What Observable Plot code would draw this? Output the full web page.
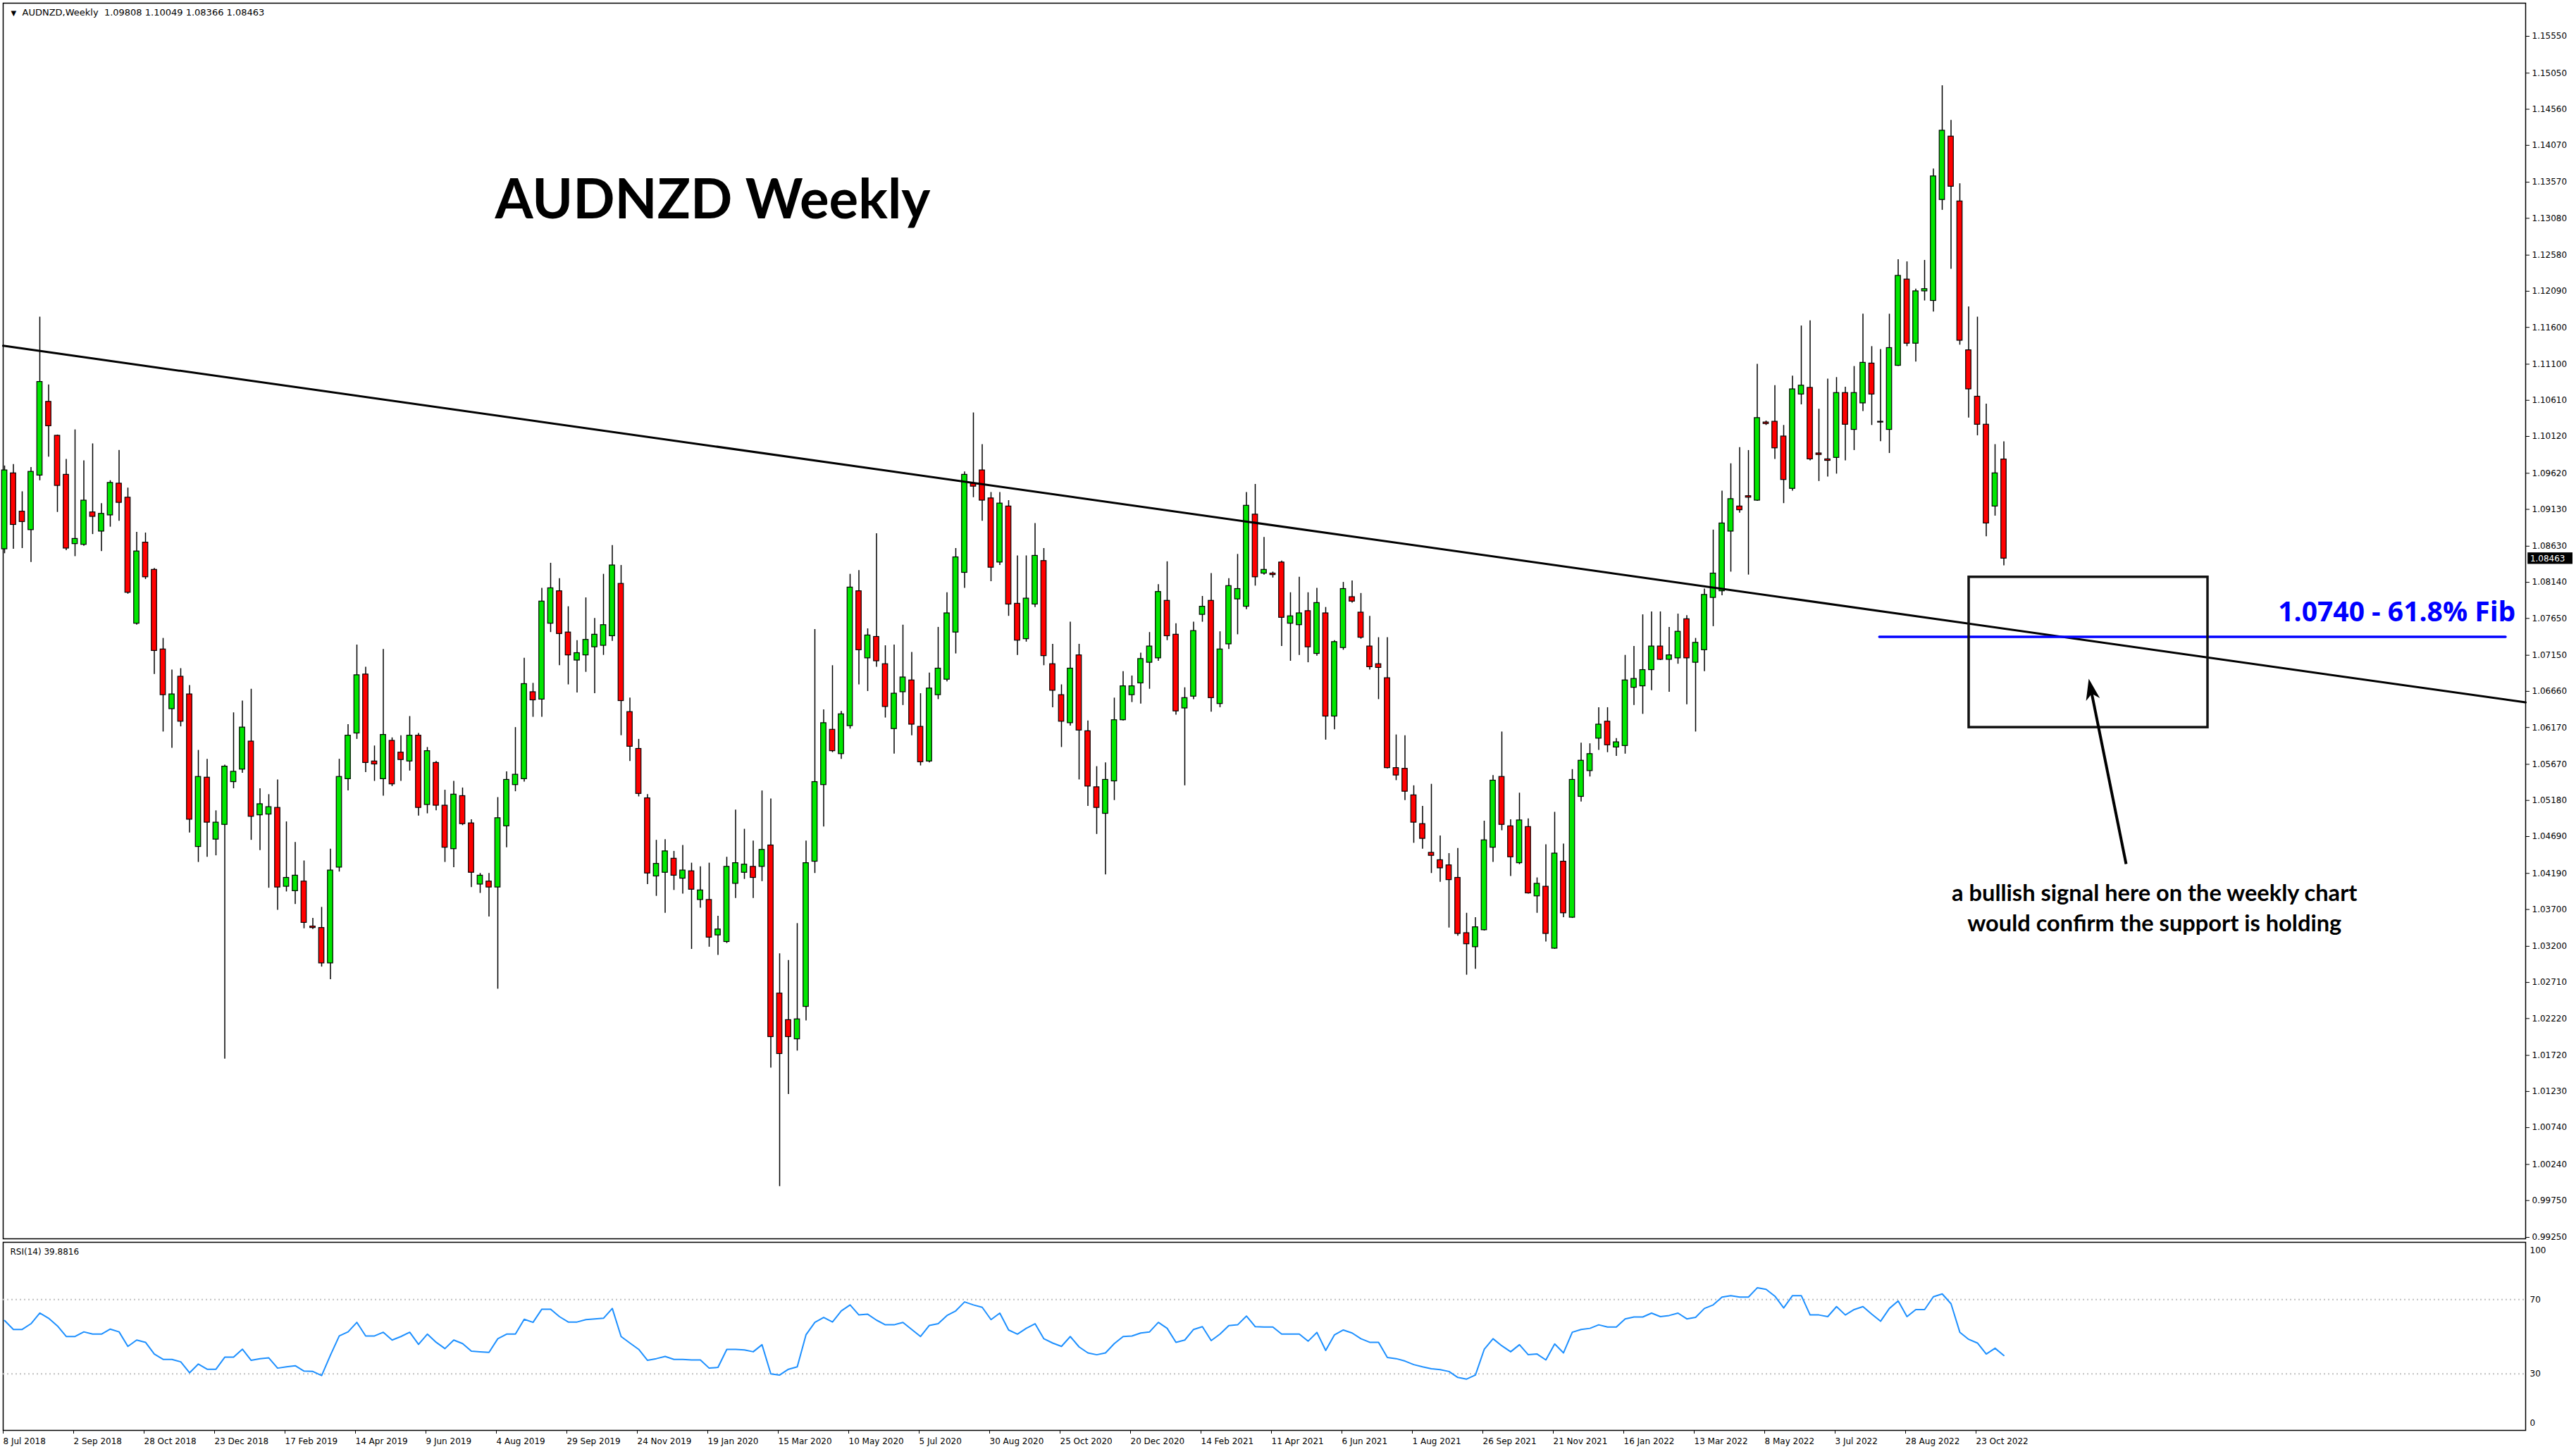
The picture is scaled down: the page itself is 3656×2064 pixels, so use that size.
<!DOCTYPE html>
<html><head><meta charset="utf-8">
<script src="https://cdn.jsdelivr.net/npm/d3@7"></script>
<script src="https://cdn.jsdelivr.net/npm/@observablehq/plot@0.6"></script>
<style>
body{margin:0;background:#fff;}
#wrap{position:relative;width:3656px;height:2064px;overflow:hidden;background:#fff;}
#wrap svg{position:absolute;left:0;}
</style></head><body><div id="wrap"></div>
<script>
const symbolName = "AUDNZD";
const timeframe = "Weekly";

const opens = [
1.0859,1.0962,1.0910,1.0885,1.0959,1.1059,1.1013,1.0960,1.0866,1.0865,
1.0909,1.0883,1.0905,1.0948,1.0929,1.0758,1.0868,1.0831,1.0723,1.0642,
1.0686,1.0662,1.0455,1.0549,1.0465,1.0485,1.0543,1.0560,1.0598,1.0498,
1.0499,1.0508,1.0401,1.0395,1.0408,1.0347,1.0345,1.0297,1.0427,1.0547,
1.0609,1.0689,1.0571,1.0547,1.0599,1.0583,1.0571,1.0606,1.0512,1.0569,
1.0511,1.0452,1.0524,1.0487,1.0404,1.0408,1.0400,1.0483,1.0539,1.0547,
1.0665,1.0655,1.0758,1.0802,1.0746,1.0708,1.0715,1.0726,1.0728,1.0741,
1.0812,1.0638,1.0588,1.0521,1.0415,1.0420,1.0439,1.0412,1.0422,1.0383,
1.0383,1.0335,1.0326,1.0405,1.0420,1.0428,1.0428,1.0457,1.0256,1.0220,
1.0194,1.0238,1.0435,1.0539,1.0614,1.0581,1.0619,1.0802,1.0711,1.0740,
1.0703,1.0615,1.0665,1.0681,1.0618,1.0571,1.0661,1.0682,1.0746,1.0827,
1.0948,1.0966,1.0928,1.0841,1.0917,1.0785,1.0737,1.0784,1.0843,1.0703,
1.0661,1.0623,1.0715,1.0612,1.0536,1.0500,1.0544,1.0627,1.0661,1.0677,
1.0705,1.0711,1.0789,1.0743,1.0643,1.0659,1.0770,1.0789,1.0649,1.0730,
1.0791,1.0781,1.0906,1.0826,1.0826,1.0841,1.0758,1.0756,1.0775,1.0717,
1.0772,1.0632,1.0725,1.0794,1.0773,1.0727,1.0703,1.0684,1.0562,1.0561,
1.0525,1.0486,1.0447,1.0437,1.0430,1.0413,1.0338,1.0319,1.0342,1.0454,
1.0550,1.0483,1.0433,1.0482,1.0388,1.0401,1.0317,1.0435,1.0359,1.0523,
1.0558,1.0602,1.0625,1.0590,1.0592,1.0671,1.0673,1.0695,1.0727,1.0709,
1.0711,1.0764,1.0705,1.0722,1.0793,1.0802,1.0883,1.0917,1.0931,1.0925,
1.1031,1.1032,1.1012,1.0941,1.1069,1.1078,1.0989,1.0981,1.0983,1.1071,
1.1021,1.1057,1.1111,1.1032,1.1021,1.1108,1.1225,1.1138,1.1209,1.1196,
1.1333,1.1419,1.1331,1.1129,1.1066,1.1028,1.0917,1.09808];

const highs = [
1.0972,1.0974,1.0937,1.0970,1.1174,1.1082,1.1014,1.0981,1.1021,1.0979,
1.1002,1.0921,1.0952,1.0993,1.0942,1.0882,1.0881,1.0833,1.0738,1.0695,
1.0697,1.0674,1.0586,1.0574,1.0504,1.0566,1.0637,1.0653,1.0669,1.0534,
1.0526,1.0546,1.0489,1.0461,1.0436,1.0358,1.0373,1.0452,1.0574,1.0621,
1.0729,1.0699,1.0592,1.0723,1.0603,1.0606,1.0632,1.0609,1.0590,1.0571,
1.0532,1.0544,1.0535,1.0492,1.0419,1.0419,1.0522,1.0557,1.0617,1.0711,
1.0677,1.0806,1.0840,1.0819,1.0781,1.0735,1.0793,1.0765,1.0825,1.0864,
1.0837,1.0657,1.0601,1.0526,1.0464,1.0465,1.0449,1.0457,1.0433,1.0428,
1.0433,1.0361,1.0441,1.0505,1.0479,1.0463,1.0531,1.0520,1.0310,1.0301,
1.0351,1.0463,1.0750,1.0641,1.0701,1.0639,1.0825,1.0830,1.0751,1.0880,
1.0728,1.0729,1.0756,1.0719,1.0663,1.0691,1.0753,1.0800,1.0860,1.0964,
1.1044,1.1001,1.0936,1.0936,1.0925,1.0850,1.0850,1.0894,1.0860,1.0730,
1.0675,1.0760,1.0730,1.0626,1.0564,1.0569,1.0657,1.0693,1.0687,1.0718,
1.0746,1.0811,1.0842,1.0758,1.0671,1.0760,1.0795,1.0826,1.0747,1.0819,
1.0852,1.0936,1.0947,1.0875,1.0828,1.0843,1.0800,1.0821,1.0800,1.0806,
1.0780,1.0735,1.0814,1.0816,1.0799,1.0768,1.0739,1.0739,1.0607,1.0606,
1.0538,1.0510,1.0540,1.0470,1.0446,1.0453,1.0365,1.0359,1.0490,1.0552,
1.0611,1.0492,1.0528,1.0493,1.0413,1.0458,1.0502,1.0459,1.0560,1.0596,
1.0595,1.0644,1.0644,1.0602,1.0715,1.0727,1.0770,1.0774,1.0774,1.0753,
1.0771,1.0769,1.0738,1.0805,1.0885,1.0938,1.0975,1.0997,1.0993,1.1110,
1.1033,1.1081,1.1027,1.1094,1.1162,1.1169,1.1049,1.1090,1.1092,1.1079,
1.1107,1.1178,1.1134,1.1130,1.1178,1.1252,1.1249,1.1212,1.1251,1.1375,
1.1488,1.1441,1.1355,1.1188,1.1174,1.1056,1.1001,1.10049];

const lows = [
1.0853,1.0859,1.0860,1.0841,1.0952,1.0984,1.0909,1.0857,1.0849,1.0863,
1.0879,1.0856,1.0889,1.0897,1.0798,1.0756,1.0818,1.0689,1.0611,1.0589,
1.0618,1.0474,1.0434,1.0441,1.0443,1.0167,1.0534,1.0555,1.0464,1.0450,
1.0399,1.0369,1.0394,1.0377,1.0344,1.0343,1.0292,1.0275,1.0421,1.0531,
1.0601,1.0556,1.0544,1.0524,1.0537,1.0544,1.0558,1.0497,1.0500,1.0504,
1.0434,1.0427,1.0484,1.0400,1.0392,1.0360,1.0262,1.0454,1.0530,1.0543,
1.0631,1.0631,1.0746,1.0701,1.0675,1.0664,1.0692,1.0663,1.0715,1.0734,
1.0606,1.0571,1.0523,1.0404,1.0388,1.0365,1.0396,1.0391,1.0316,1.0372,
1.0319,1.0308,1.0324,1.0385,1.0411,1.0385,1.0408,1.0155,0.9994,1.0119,
1.0178,1.0219,1.0419,1.0482,1.0583,1.0574,1.0615,1.0675,1.0666,1.0699,
1.0630,1.0581,1.0647,1.0606,1.0565,1.0569,1.0655,1.0679,1.0717,1.0806,
1.0929,1.0897,1.0815,1.0837,1.0768,1.0715,1.0733,1.0780,1.0701,1.0644,
1.0590,1.0619,1.0546,1.0510,1.0472,1.0417,1.0518,1.0626,1.0651,1.0649,
1.0669,1.0707,1.0735,1.0634,1.0538,1.0655,1.0760,1.0638,1.0644,1.0723,
1.0743,1.0777,1.0809,1.0824,1.0820,1.0727,1.0707,1.0715,1.0705,1.0714,
1.0600,1.0614,1.0722,1.0786,1.0737,1.0695,1.0655,1.0561,1.0545,1.0518,
1.0460,1.0452,1.0419,1.0407,1.0345,1.0334,1.0281,1.0289,1.0341,1.0434,
1.0477,1.0415,1.0431,1.0391,1.0365,1.0326,1.0316,1.0359,1.0358,1.0516,
1.0550,1.0586,1.0583,1.0578,1.0581,1.0647,1.0635,1.0667,1.0708,1.0665,
1.0703,1.0648,1.0611,1.0693,1.0754,1.0796,1.0828,1.0908,1.0824,1.0924,
1.1027,1.0981,1.0921,1.0938,1.1055,1.0979,1.0951,1.0957,1.0961,1.0979,
1.0993,1.1046,1.1027,1.1005,1.0989,1.1107,1.1134,1.1113,1.1196,1.1181,
1.1319,1.1239,1.1136,1.1037,1.1013,1.0876,1.0904,1.08366];

const closes = [
1.0966,1.0892,1.0896,1.0964,1.1086,1.1026,1.0945,1.0860,1.0873,1.0925,
1.0903,1.0907,1.0949,1.0922,1.0800,1.0856,1.0821,1.0721,1.0661,1.0662,
1.0625,1.0492,1.0550,1.0488,1.0488,1.0564,1.0557,1.0617,1.0496,1.0513,
1.0509,1.0400,1.0413,1.0416,1.0352,1.0345,1.0297,1.0423,1.0550,1.0606,
1.0688,1.0569,1.0567,1.0607,1.0540,1.0573,1.0606,1.0508,1.0585,1.0511,
1.0454,1.0526,1.0486,1.0420,1.0416,1.0400,1.0494,1.0546,1.0553,1.0676,
1.0654,1.0788,1.0806,1.0744,1.0715,1.0718,1.0736,1.0743,1.0756,1.0837,
1.0653,1.0591,1.0527,1.0419,1.0432,1.0449,1.0416,1.0423,1.0397,1.0396,
1.0332,1.0343,1.0428,1.0433,1.0431,1.0413,1.0451,1.0197,1.0174,1.0197,
1.0221,1.0433,1.0543,1.0623,1.0585,1.0635,1.0807,1.0722,1.0742,1.0707,
1.0645,1.0663,1.0685,1.0621,1.0570,1.0670,1.0697,1.0772,1.0848,1.0960,
1.0944,1.0925,1.0834,1.0921,1.0784,1.0735,1.0792,1.0850,1.0714,1.0667,
1.0625,1.0697,1.0613,1.0537,1.0508,1.0546,1.0627,1.0673,1.0673,1.0710,
1.0727,1.0801,1.0741,1.0639,1.0657,1.0748,1.0781,1.0657,1.0723,1.0809,
1.0805,1.0918,1.0821,1.0831,1.0824,1.0766,1.0768,1.0772,1.0726,1.0786,
1.0632,1.0733,1.0805,1.0788,1.0739,1.0699,1.0698,1.0562,1.0552,1.0530,
1.0488,1.0466,1.0443,1.0426,1.0410,1.0337,1.0323,1.0346,1.0464,1.0545,
1.0485,1.0441,1.0491,1.0392,1.0405,1.0337,1.0446,1.0365,1.0546,1.0572,
1.0581,1.0621,1.0593,1.0597,1.0681,1.0683,1.0695,1.0727,1.0709,1.0715,
1.0747,1.0711,1.0732,1.0797,1.0826,1.0894,1.0927,1.0912,1.0929,1.1037,
1.1029,1.0996,1.0953,1.1076,1.1081,1.0981,1.0987,1.0979,1.1071,1.1028,
1.1071,1.1112,1.1069,1.1031,1.1132,1.1230,1.1138,1.1209,1.1212,1.1365,
1.1427,1.1351,1.1142,1.1076,1.1028,1.0894,1.0962,1.08463];

const rsi14 = [
58.7,53.9,53.9,57.0,62.7,59.9,55.8,50.1,50.1,52.6,
51.4,51.4,54.1,52.6,44.8,48.2,47.0,40.7,37.8,37.8,
36.5,30.6,35.3,32.5,32.5,39.0,39.0,43.3,37.3,38.2,
38.6,33.1,33.8,34.4,31.5,31.3,29.1,40.1,50.4,52.6,
57.7,50.4,50.4,52.4,48.2,50.1,52.4,45.9,51.4,47.0,
43.6,48.2,46.3,42.2,41.9,41.6,48.9,51.4,51.4,59.4,
57.7,64.8,64.8,60.8,57.9,57.9,59.2,59.6,59.9,65.2,
50.1,46.6,43.2,37.3,38.2,39.4,37.8,37.8,37.5,37.5,
33.1,33.5,43.2,43.2,42.9,41.9,45.7,30.0,29.4,32.5,
33.8,51.1,57.7,60.4,57.9,63.9,67.1,61.7,62.1,58.9,
56.4,56.4,57.7,53.9,50.1,56.1,57.0,61.4,63.9,68.7,
67.1,65.8,59.2,62.7,53.6,51.4,54.5,57.0,48.9,46.6,
44.8,50.1,44.5,41.3,40.3,41.3,46.3,50.1,50.4,52.0,
52.6,57.7,54.5,47.0,48.2,53.9,55.4,47.9,51.4,56.0,
56.4,61.1,55.4,55.2,55.2,51.4,51.4,51.4,47.6,52.3,
42.6,51.0,53.6,52.0,48.9,47.0,47.0,38.8,38.2,36.9,
35.0,33.8,32.8,32.3,31.3,28.1,27.2,29.4,43.2,48.9,
45.1,41.9,45.7,40.3,40.7,37.5,46.1,41.3,52.4,53.9,
54.5,56.4,55.2,55.2,59.6,60.6,60.6,62.7,60.8,61.4,
62.7,59.6,60.4,65.2,67.1,71.3,72.1,71.3,71.3,76.3,
75.5,71.8,65.5,72.1,72.1,61.7,61.7,60.8,66.2,61.7,
64.6,66.2,62.1,58.3,65.2,69.2,60.8,64.6,64.6,71.5,
73.0,67.7,52.4,48.6,46.6,40.7,43.8,39.8816];

const priceTicks = [1.15550,1.15050,1.14560,1.14070,1.13570,1.13080,1.12580,1.12090,1.11600,1.11100,
1.10610,1.10120,1.09620,1.09130,1.08630,1.08140,1.07650,1.07150,1.06660,1.06170,1.05670,1.05180,
1.04690,1.04190,1.03700,1.03200,1.02710,1.02220,1.01720,1.01230,1.00740,1.00240,0.99750,0.99250];

const dateLabels = ["8 Jul 2018","2 Sep 2018","28 Oct 2018","23 Dec 2018","17 Feb 2019","14 Apr 2019",
"9 Jun 2019","4 Aug 2019","29 Sep 2019","24 Nov 2019","19 Jan 2020","15 Mar 2020","10 May 2020",
"5 Jul 2020","30 Aug 2020","25 Oct 2020","20 Dec 2020","14 Feb 2021","11 Apr 2021","6 Jun 2021",
"1 Aug 2021","26 Sep 2021","21 Nov 2021","16 Jan 2022","13 Mar 2022","8 May 2022","3 Jul 2022",
"28 Aug 2022","23 Oct 2022"];
const weeksPerLabel = 8;

const rsiLevels = [70, 30];
const rsiAxisMid = [70, 30];

// annotations (week index, price)
const trendPoints = [{i: -0.16, v: 1.1135}, {i: 286.24, v: 1.0651}];
const fibLevel = 1.0740;
const fibSpan = {i1: 212.9, i2: 284.0};
const fibLabel = "1.0740 - 61.8% Fib";
const fibLabelPos = {i: 285.1, v: 1.0773};
const zoneBox = {i1: 223.04, i2: 250.16, v1: 1.0617, v2: 1.0821};
const arrowTip = {i: 236.64, v: 1.06831};
const arrowBase = {i: 240.88, v: 1.04317};
const titleText = "AUDNZD Weekly";
const titlePos = {i: 80.4, v: 1.1332};
const noteText = "a bullish signal here on the weekly chart\nwould confirm the support is holding";
const notePos = {i: 244.1, v: 1.0374};

const bullColor = "#00e600", bearColor = "#ff0000";

const candles = opens.map((o, i) => ({i, o, h: highs[i], l: lows[i], c: closes[i]}));
const bull = candles.filter(d => d.c >= d.o);
const bear = candles.filter(d => d.c < d.o);
const last = candles[candles.length - 1];

const W = 3656;
const xCfg = {domain: [0, 227], range: [6, 6 + 12.5 * 227]};
const bodyHalf = 0.3;

const arrowHead = {
  draw(ctx, size) {
    const r = Math.sqrt(size / Math.PI);
    const L = 3 * r, Wd = 1.0 * r;
    ctx.moveTo(0, 0);
    ctx.lineTo(-Wd, L);
    ctx.lineTo(0, L * 0.72);
    ctx.lineTo(Wd, L);
    ctx.closePath();
  }
};
const shaftEnd = {i: arrowTip.i + 0.08 * (arrowBase.i - arrowTip.i), v: arrowTip.v + 0.08 * (arrowBase.v - arrowTip.v)};

const header = `${symbolName},${timeframe}\u00a0\u00a0${last.o.toFixed(5)} ${last.h.toFixed(5)} ${last.l.toFixed(5)} ${last.c.toFixed(5)}`;

const main = Plot.plot({
  width: W, height: 1760,
  marginLeft: 4, marginRight: 72, marginTop: 4, marginBottom: 2,
  style: {fontFamily: "DejaVu Sans", fontSize: "12px", background: "transparent", overflow: "visible", color: "black"},
  x: {...xCfg, axis: null},
  y: {domain: [0.99250, 1.15550], range: [1756, 51]},
  marks: [
    Plot.frame({stroke: "black", strokeWidth: 1.5}),
    Plot.axisY({anchor: "right", ticks: priceTicks, tickFormat: d => d.toFixed(5), tickSize: 5, tickPadding: 4, label: null}),
    Plot.ruleX(candles, {x: "i", y1: "l", y2: "h", stroke: "black", strokeWidth: 1.5}),
    Plot.rect(bull, {x1: d => d.i - bodyHalf, x2: d => d.i + bodyHalf, y1: "o", y2: "c", fill: bullColor, stroke: "black", strokeWidth: 1.2}),
    Plot.rect(bear, {x1: d => d.i - bodyHalf, x2: d => d.i + bodyHalf, y1: "o", y2: "c", fill: bearColor, stroke: "black", strokeWidth: 1.2}),
    Plot.line(trendPoints, {x: "i", y: "v", stroke: "black", strokeWidth: 3}),
    Plot.ruleY([fibLevel], {x1: fibSpan.i1, x2: fibSpan.i2, stroke: "#0000ff", strokeWidth: 3.5, strokeLinecap: "round"}),
    Plot.rect([zoneBox], {x1: "i1", x2: "i2", y1: "v1", y2: "v2", fill: "none", stroke: "#111", strokeWidth: 3.5}),
    Plot.link([0], {x1: () => arrowBase.i, y1: () => arrowBase.v, x2: () => shaftEnd.i, y2: () => shaftEnd.v, stroke: "black", strokeWidth: 4}),
    Plot.dot([arrowTip], {x: "i", y: "v", symbol: arrowHead, r: 10, fill: "black", stroke: "none", rotate: -11.4}),
    Plot.text([fibLabel], {x: fibLabelPos.i, y: fibLabelPos.v, text: d => d, textAnchor: "end", fill: "#0000ff", fontWeight: "bold", fontSize: 40, fontFamily: "Liberation Sans Narrow, Open Sans, sans-serif"}),
    Plot.text([titleText], {x: titlePos.i, y: titlePos.v, text: d => d, textAnchor: "middle", fill: "black", fontWeight: "bold", fontSize: 78, fontFamily: "Lato, Open Sans, sans-serif"}),
    Plot.text([noteText], {x: notePos.i, y: notePos.v, text: d => d, textAnchor: "middle", lineAnchor: "middle", lineHeight: 1.31, fill: "black", fontWeight: "bold", fontSize: 32.6, fontFamily: "Lato, Open Sans, sans-serif"}),
    Plot.rect([last], {x1: 286.5, x2: 291.6, y1: d => d.c - 0.00078, y2: d => d.c + 0.00078, fill: "black"}),
    Plot.text([last], {x: 286.75, y: "c", text: d => d.c.toFixed(5), textAnchor: "start", fill: "white", fontSize: 12}),
    Plot.text([header], {frameAnchor: "top-left", dx: 27, dy: 13, text: d => d, textAnchor: "start", lineAnchor: "middle", fontSize: 13, fill: "black"}),
    Plot.text(["\u25BC"], {frameAnchor: "top-left", dx: 11, dy: 14, text: d => d, textAnchor: "start", lineAnchor: "middle", fontSize: 10, fill: "black"})
  ]
});
main.style.top = "0px";

d3.select(main).selectAll("text").filter(function() { return this.textContent === fibLabel; })
  .attr("textLength", 337).attr("lengthAdjust", "spacingAndGlyphs");

const rsiPlot = Plot.plot({
  width: W, height: 304,
  marginLeft: 4, marginRight: 72, marginTop: 3, marginBottom: 34,
  style: {fontFamily: "DejaVu Sans", fontSize: "12px", background: "transparent", overflow: "visible", color: "black"},
  x: {...xCfg},
  y: {domain: [0, 100], range: [269, 5], axis: null},
  marks: [
    Plot.frame({stroke: "black", strokeWidth: 1.5}),
    Plot.ruleY(rsiLevels, {stroke: "#c0c0c0", strokeDasharray: "2,4", strokeWidth: 2}),
    Plot.line(rsi14, {x: (d, i) => i, y: d => d, stroke: "#1e90ff", strokeWidth: 2}),
    Plot.axisX({anchor: "bottom", ticks: dateLabels.map((d, k) => k * weeksPerLabel), tickFormat: d => dateLabels[d / weeksPerLabel], tickSize: 5, tickPadding: 6, textAnchor: "start", dx: -2, label: null}),
    Plot.text(rsiAxisMid, {y: d => d, frameAnchor: "right", dx: 6, text: d => String(d), textAnchor: "start", lineAnchor: "middle"}),
    Plot.text([100], {y: d => d, frameAnchor: "right", dx: 6, dy: 10, text: d => String(d), textAnchor: "start", lineAnchor: "middle"}),
    Plot.text([0], {y: d => d, frameAnchor: "right", dx: 6, dy: -9, text: d => String(d), textAnchor: "start", lineAnchor: "middle"}),
    Plot.text([`RSI(14) ${rsi14[rsi14.length - 1].toFixed(4)}`], {frameAnchor: "top-left", dx: 10, dy: 14, text: d => d, textAnchor: "start", lineAnchor: "middle", fontSize: 12})
  ]
});
rsiPlot.style.top = "1760px";

const wrap = document.getElementById("wrap");
wrap.appendChild(main);
wrap.appendChild(rsiPlot);
</script>
</body></html>
